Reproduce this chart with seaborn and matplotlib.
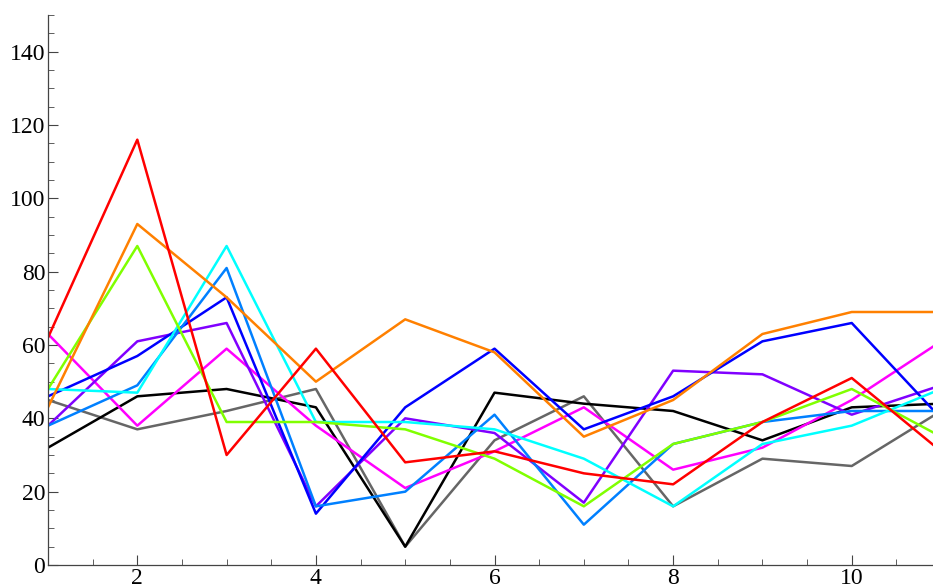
import numpy as np
import pandas as pd
import matplotlib
matplotlib.use("Agg")
import matplotlib.pyplot as plt
from matplotlib.ticker import MultipleLocator
import seaborn as sns

x = [1, 2, 3, 4, 5, 6, 7, 8, 9, 10, 11]

red = [62, 116, 30, 59, 28, 31, 25, 22, 39, 51, 31]
orange = [43, 93, 73, 50, 67, 58, 35, 45, 63, 69, 69]
green = [48, 87, 39, 39, 37, 29, 16, 33, 39, 48, 35]
cyan = [48, 47, 87, 39, 39, 37, 29, 16, 33, 38, 48]
azure = [38, 49, 81, 16, 20, 41, 11, 33, 39, 42, 42]
blue = [46, 57, 73, 14, 43, 59, 37, 46, 61, 66, 40]
violet = [38, 61, 66, 16, 40, 36, 17, 53, 52, 41, 49]
magenta = [63, 38, 59, 38, 21, 31, 43, 26, 32, 45, 61]
black = [32, 46, 48, 43, 5, 47, 44, 42, 34, 43, 44]
gray = [45, 37, 42, 48, 5, 34, 46, 16, 29, 27, 42]

series = {"gray": gray, "black": black, "magenta": magenta, "violet": violet,
          "blue": blue, "azure": azure, "cyan": cyan, "green": green,
          "orange": orange, "red": red}
palette = {"red": "#FF0000", "orange": "#FF8000", "green": "#80FF00",
           "cyan": "#00FFFF", "azure": "#0080FF", "blue": "#0000FF",
           "violet": "#8000FF", "magenta": "#FF00FF", "black": "#000000",
           "gray": "#666666"}

rows = []
for name, vals in series.items():
    for xi, v in zip(x, vals):
        rows.append({"x": xi, "y": v, "s": name})
df = pd.DataFrame(rows)

sns.set_style("white")
plt.rcParams["font.family"] = ["Liberation Serif", "DejaVu Serif"]

fig = plt.figure(figsize=(9.33, 5.86), dpi=100)
ax = fig.add_axes([48 / 933, 21 / 586, 885 / 933, 550 / 586])

sns.lineplot(data=df, x="x", y="y", hue="s", palette=palette, linewidth=1.8,
             legend=False, ax=ax, sort=False)

ax.set_xlim(1, 10.91)
ax.set_ylim(0, 150)
ax.xaxis.set_major_locator(MultipleLocator(2))
ax.xaxis.set_minor_locator(MultipleLocator(0.5))
ax.yaxis.set_major_locator(MultipleLocator(20))
ax.yaxis.set_minor_locator(MultipleLocator(5))
ax.set_xlabel("")
ax.set_ylabel("")

for side in ["top", "right"]:
    ax.spines[side].set_visible(False)
for side in ["left", "bottom"]:
    ax.spines[side].set_color("#444444")
    ax.spines[side].set_linewidth(0.9)

ax.tick_params(which="major", direction="in", length=7, width=0.8,
               color="#444444", labelsize=17, labelcolor="black", pad=2)
ax.tick_params(which="minor", direction="in", length=4, width=0.6,
               color="#444444")
ax.tick_params(axis="x", which="both", bottom=True)
ax.tick_params(axis="y", which="both", left=True)
ax.set_xticks([2, 4, 6, 8, 10])
ax.set_yticks([0, 20, 40, 60, 80, 100, 120, 140])

fig.savefig("out.png", dpi=100)
